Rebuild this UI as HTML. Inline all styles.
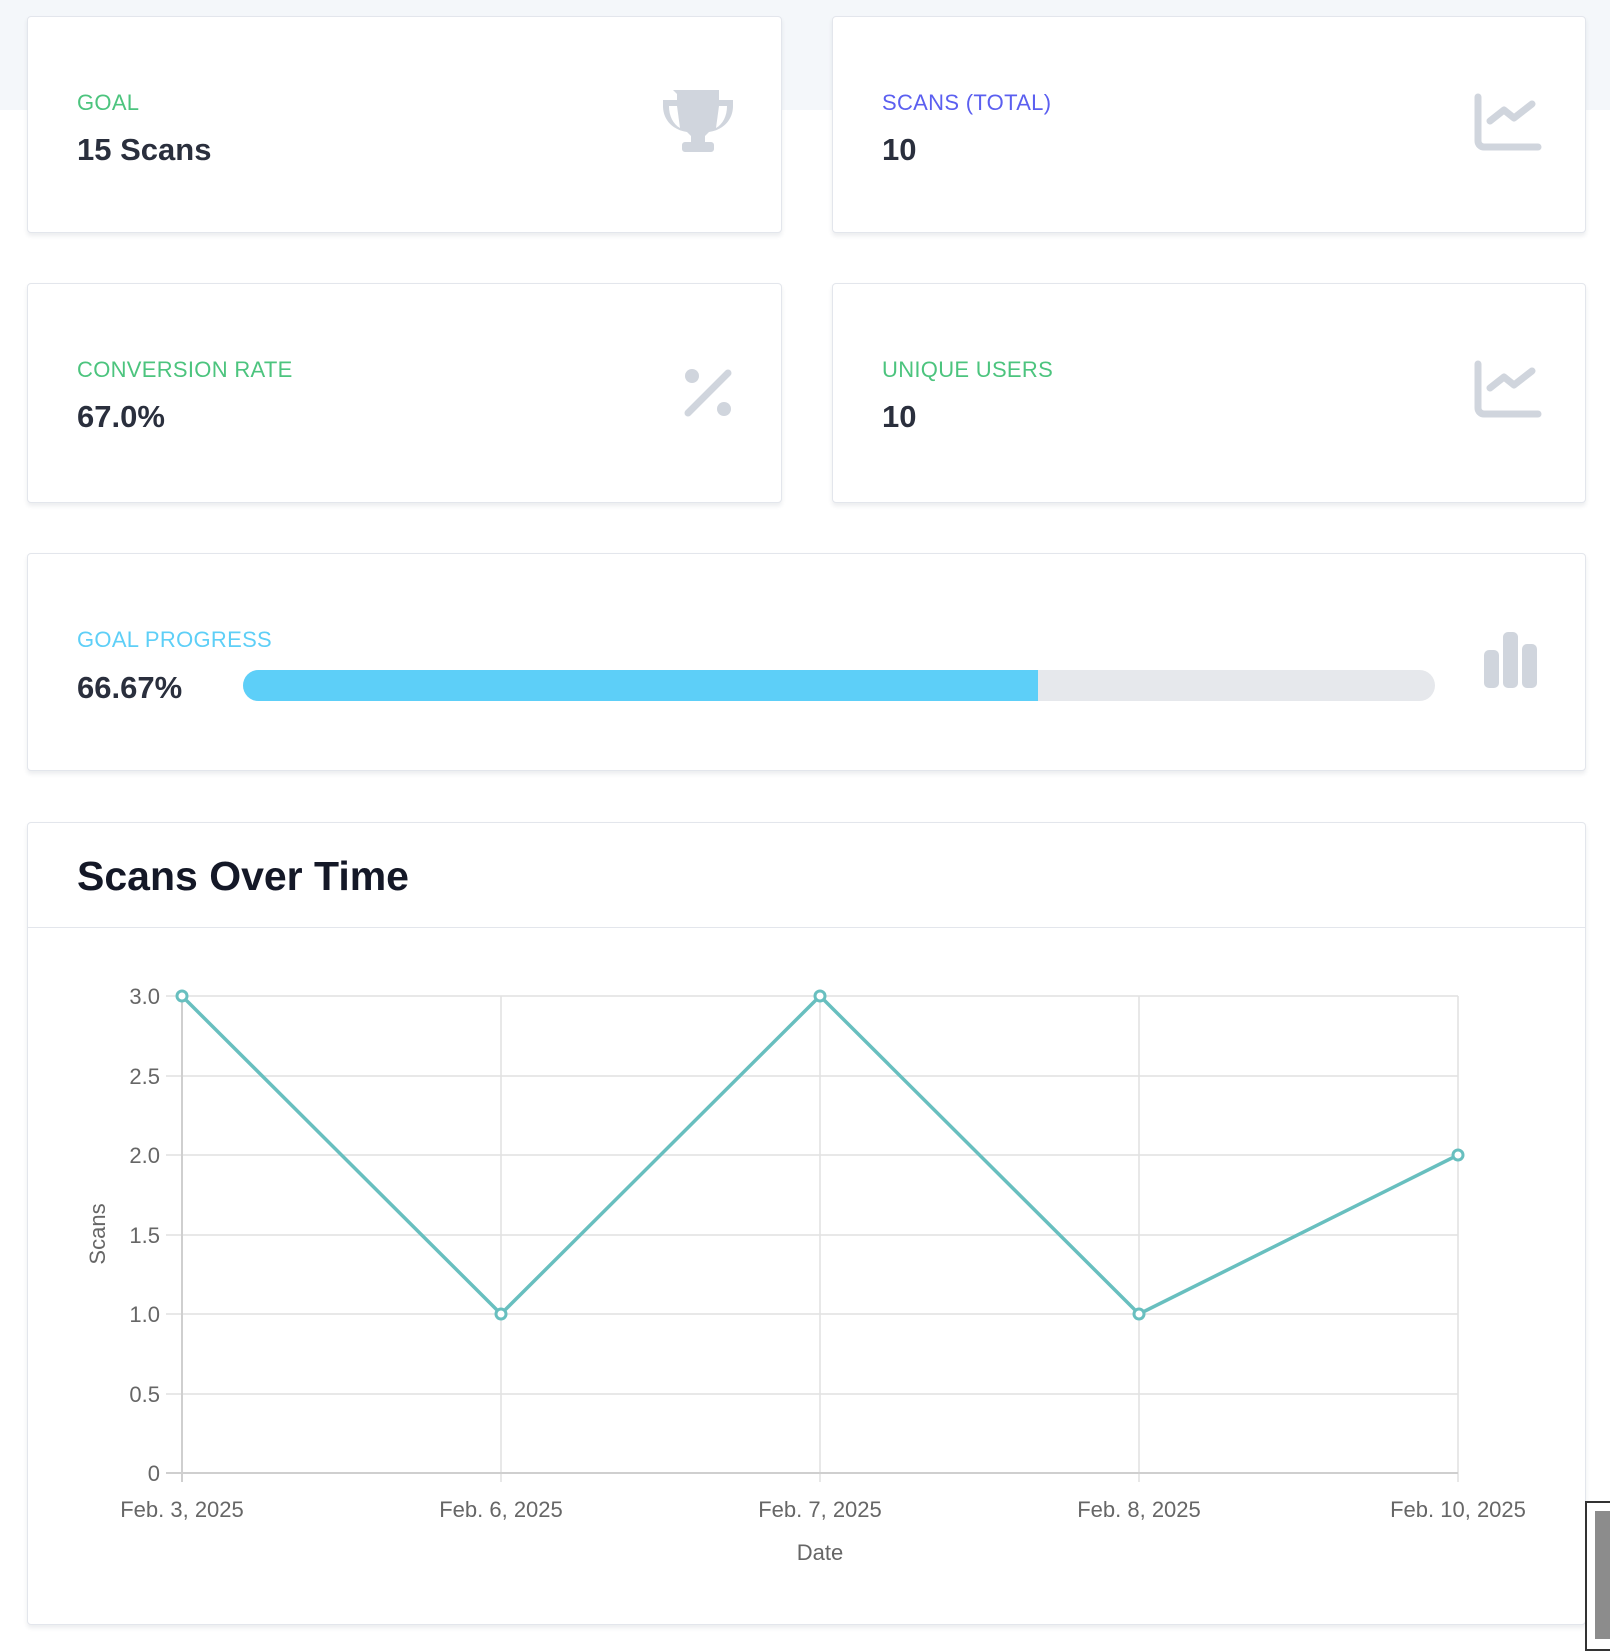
<!DOCTYPE html>
<html><head><meta charset="utf-8"><style>
body{margin:0;width:1610px;height:1646px;background:#fff;position:relative;overflow:hidden;font-family:"Liberation Sans",sans-serif}
.band{position:absolute;left:0;top:0;width:1610px;height:110px;background:#f4f7fa}
.card{position:absolute;background:#fff;border:1px solid #e3e6ec;border-radius:4px;box-shadow:0 3px 4px rgba(40,50,80,0.09);box-sizing:border-box}
.lbl{position:absolute;left:49px;font-size:22px;letter-spacing:0.3px}
.val{position:absolute;left:49px;font-size:31px;font-weight:bold;color:#2a2f3d}
svg text{font-family:"Liberation Sans",sans-serif}
</style></head><body>
<div class="band"></div>

<div class="card" style="left:27px;top:16px;width:755px;height:217px">
 <div class="lbl" style="top:73px;color:#4cc47e">GOAL</div>
 <div class="val" style="top:115px">15 Scans</div>
 <svg style="position:absolute;left:633px;top:73px" width="74" height="66" viewBox="0 0 74 66"><g fill="#d0d5dd"><path d="M12 0h46v10h14v6c0 14-10 24-24 26l-4 4v6h6a3 3 0 0 1 3 3v4a3 3 0 0 1-3 3H24a3 3 0 0 1-3-3v-4a3 3 0 0 1 3-3h6v-6l-4-4C12 40 2 30 2 16v-6h14V4z"/></g><g fill="#fff"><path d="M8 16h8l3 22C12 34 8 26 8 16zM66 16h-8l-3 22c7-4 11-12 11-22z"/></g></svg>
</div>

<div class="card" style="left:832px;top:16px;width:754px;height:217px">
 <div class="lbl" style="top:73px;color:#5b5ff0">SCANS (TOTAL)</div>
 <div class="val" style="top:115px">10</div>
 <svg style="position:absolute;left:641px;top:76px" width="68" height="58" viewBox="0 0 68 58"><g fill="none" stroke="#d0d5dd" stroke-width="7" stroke-linecap="round" stroke-linejoin="round"><path d="M4 4v44a6 6 0 0 0 6 6h54"/><path d="M16 28l14-11 10 8 18-14"/></g></svg>
</div>

<div class="card" style="left:27px;top:283px;width:755px;height:220px">
 <div class="lbl" style="top:73px;color:#4cc47e">CONVERSION RATE</div>
 <div class="val" style="top:115px">67.0%</div>
 <svg style="position:absolute;left:656px;top:83px" width="52" height="52" viewBox="0 0 52 52"><g fill="#d0d5dd"><circle cx="8" cy="9" r="7"/><circle cx="40" cy="42" r="7"/></g><path d="M4 46L44 6" stroke="#d0d5dd" stroke-width="7" stroke-linecap="round"/></svg>
</div>

<div class="card" style="left:832px;top:283px;width:754px;height:220px">
 <div class="lbl" style="top:73px;color:#4cc47e">UNIQUE USERS</div>
 <div class="val" style="top:115px">10</div>
 <svg style="position:absolute;left:641px;top:76px" width="68" height="58" viewBox="0 0 68 58"><g fill="none" stroke="#d0d5dd" stroke-width="7" stroke-linecap="round" stroke-linejoin="round"><path d="M4 4v44a6 6 0 0 0 6 6h54"/><path d="M16 28l14-11 10 8 18-14"/></g></svg>
</div>

<div class="card" style="left:27px;top:553px;width:1559px;height:218px">
 <div class="lbl" style="top:73px;color:#5ecff7">GOAL PROGRESS</div>
 <div class="val" style="top:116px">66.67%</div>
 <div style="position:absolute;left:215px;top:116px;width:1192px;height:31px;border-radius:16px;background:#e6e8ec;overflow:hidden"><div style="width:795px;height:31px;background:#5dcff8"></div></div>
 <svg style="position:absolute;left:1454px;top:76px" width="58" height="60" viewBox="0 0 58 60"><g fill="#d0d5dd"><rect x="2" y="20" width="15" height="38" rx="5"/><rect x="21" y="2" width="15" height="56" rx="5"/><rect x="40" y="14" width="15" height="44" rx="5"/></g></svg>
</div>

<div class="card" style="left:27px;top:822px;width:1559px;height:803px">
 <div style="position:absolute;left:49px;top:30px;font-size:41px;font-weight:bold;color:#141827">Scans Over Time</div>
 <div style="position:absolute;left:0;top:104px;width:100%;height:1px;background:#e3e6ec"></div>
</div>

<svg style="position:absolute;left:0;top:0" width="1610" height="1646">
 <g stroke="#e1e1e1" stroke-width="1.5">
  <line x1="166" y1="996" x2="1458" y2="996"/>
  <line x1="166" y1="1076" x2="1458" y2="1076"/>
  <line x1="166" y1="1155" x2="1458" y2="1155"/>
  <line x1="166" y1="1235" x2="1458" y2="1235"/>
  <line x1="166" y1="1314" x2="1458" y2="1314"/>
  <line x1="166" y1="1394" x2="1458" y2="1394"/>
  <line x1="501" y1="996" x2="501" y2="1482"/>
  <line x1="820" y1="996" x2="820" y2="1482"/>
  <line x1="1139" y1="996" x2="1139" y2="1482"/>
  <line x1="1458" y1="996" x2="1458" y2="1482"/>
 </g>
 <g stroke="#cfcfcf" stroke-width="2">
  <line x1="182" y1="996" x2="182" y2="1482"/>
  <line x1="166" y1="1473" x2="1458" y2="1473"/>
 </g>
 <g font-size="22" fill="#666" text-anchor="end">
  <text x="160" y="1004">3.0</text><text x="160" y="1084">2.5</text><text x="160" y="1163">2.0</text>
  <text x="160" y="1243">1.5</text><text x="160" y="1322">1.0</text><text x="160" y="1402">0.5</text><text x="160" y="1481">0</text>
 </g>
 <g font-size="22" fill="#666" text-anchor="middle">
  <text x="182" y="1517">Feb. 3, 2025</text><text x="501" y="1517">Feb. 6, 2025</text><text x="820" y="1517">Feb. 7, 2025</text>
  <text x="1139" y="1517">Feb. 8, 2025</text><text x="1458" y="1517">Feb. 10, 2025</text>
  <text x="820" y="1560">Date</text>
  <text transform="translate(105,1234) rotate(-90)">Scans</text>
 </g>
 <polyline points="182,996 501,1314 820,996 1139,1314 1458,1155" fill="none" stroke="#68bfbf" stroke-width="3.5"/>
 <g fill="#fff" stroke="#68bfbf" stroke-width="3">
  <circle cx="182" cy="996" r="5"/><circle cx="501" cy="1314" r="5"/><circle cx="820" cy="996" r="5"/><circle cx="1139" cy="1314" r="5"/><circle cx="1458" cy="1155" r="5"/>
 </g>
</svg>

<div style="position:absolute;left:1585px;top:1501px;width:30px;height:150px;border:2px solid #333;background:#fff;box-sizing:border-box"><div style="position:absolute;left:8px;top:8px;width:20px;height:128px;background:#8c8c8c"></div></div>
</body></html>
